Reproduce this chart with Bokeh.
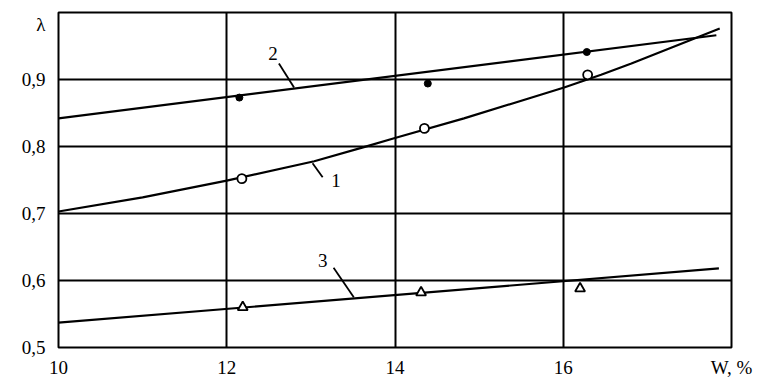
from bokeh.plotting import figure
from bokeh.models import FixedTicker, Range1d
from bokeh.core.properties import value
from bokeh.embed import file_html
from bokeh.resources import INLINE

# ---- data ----
x_ticks = [10, 12, 14, 16, 18]
x_tick_labels = ["10", "12", "14", "16", "W, %"]
y_ticks = [0.5, 0.6, 0.7, 0.8, 0.9, 0.982]
y_tick_labels = ["0,5", "0,6", "0,7", "0,8", "0,9", "λ"]

# curve 1 (open circles), smooth fitted line
c1_x = [10.0, 11.0, 12.0, 13.04, 13.63, 14.01, 14.82, 16.01, 16.45, 16.81, 17.86]
c1_y = [0.703, 0.724, 0.749, 0.778, 0.799, 0.813, 0.842, 0.888, 0.907, 0.924, 0.976]
p1_x = [12.18, 14.35, 16.29]
p1_y = [0.752, 0.827, 0.907]

# curve 2 (filled dots), straight line
c2_x = [10, 17.82]
c2_y = [0.842, 0.966]
p2_x = [12.15, 14.39, 16.28]
p2_y = [0.873, 0.894, 0.941]

# curve 3 (triangles), straight line
c3_x = [10, 17.85]
c3_y = [0.537, 0.618]
p3_x = [12.19, 14.31, 16.20]
p3_y = [0.560, 0.582, 0.588]

# curve number labels and leader lines
lab_text = ["2", "1", "3"]
lab_x = [12.55, 13.30, 13.14]
lab_y = [0.939, 0.749, 0.630]
lead_x0 = [12.62, 13.02, 13.27]
lead_y0 = [0.924, 0.775, 0.619]
lead_x1 = [12.80, 13.14, 13.51]
lead_y1 = [0.888, 0.754, 0.575]

FONT = "Liberation Serif"

p = figure(width=755, height=380, output_backend="svg", toolbar_location=None,
           x_range=Range1d(10, 18), y_range=Range1d(0.5, 1.0),
           min_border_left=58, min_border_right=24, min_border_top=12, min_border_bottom=33)
p.background_fill_color = "white"
p.border_fill_color = "white"
p.outline_line_color = "black"
p.outline_line_width = 2

p.xaxis.ticker = FixedTicker(ticks=x_ticks)
p.xaxis.major_label_overrides = {t: l for t, l in zip(x_ticks, x_tick_labels)}
p.yaxis.ticker = FixedTicker(ticks=y_ticks)
p.yaxis.major_label_overrides = {t: l for t, l in zip(y_ticks, y_tick_labels)}
for ax in (p.xaxis[0], p.yaxis[0]):
    ax.axis_line_color = None
    ax.major_tick_line_color = None
    ax.minor_tick_line_color = None
    ax.major_tick_out = 0
    ax.major_tick_in = 0
    ax.major_label_text_font = FONT
    ax.major_label_text_font_size = "19px"
    ax.major_label_text_color = "black"
p.yaxis.major_label_standoff = 13
p.xaxis.major_label_standoff = 9

p.grid.grid_line_color = "black"
p.grid.grid_line_width = 2
p.xgrid.ticker = FixedTicker(ticks=[12, 14, 16])
p.ygrid.ticker = FixedTicker(ticks=[0.6, 0.7, 0.8, 0.9])

# lines
p.line(c1_x, c1_y, line_color="black", line_width=2.2)
p.line(c2_x, c2_y, line_color="black", line_width=2.2)
p.line(c3_x, c3_y, line_color="black", line_width=2.2)

# markers
p.scatter(p1_x, p1_y, marker="circle", size=9, fill_color="white", line_color="black", line_width=1.8)
p.scatter(p2_x, p2_y, marker="circle", size=7, fill_color="black", line_color="black")
p.scatter(p3_x, p3_y, marker="triangle", size=10, fill_color="white", line_color="black", line_width=1.8)

# leaders and labels
p.segment(lead_x0, lead_y0, lead_x1, lead_y1, line_color="black", line_width=1.8)
p.text(lab_x, lab_y, text=lab_text, text_font=value(FONT), text_font_size="19px",
       text_align="center", text_baseline="middle", text_color="black")

open("out.html", "w").write(file_html(p, INLINE))
